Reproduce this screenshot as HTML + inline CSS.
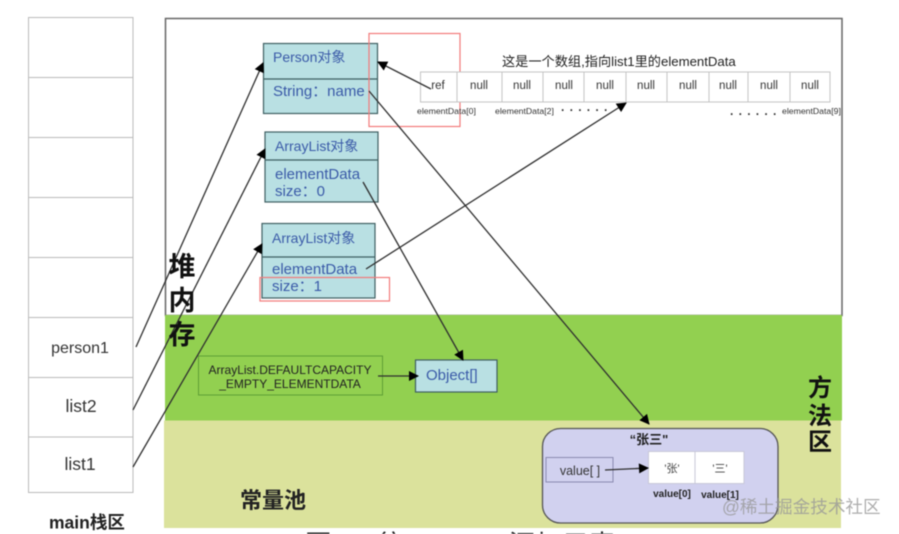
<!DOCTYPE html>
<html><head><meta charset="utf-8"><style>
html,body{margin:0;padding:0;background:#fff;width:899px;height:534px;overflow:hidden}
svg{display:block;filter:blur(.45px)}
text{font-family:"Liberation Sans","Noto Sans CJK SC",sans-serif}
</style></head><body>
<svg width="899" height="534" viewBox="0 0 899 534" xmlns="http://www.w3.org/2000/svg">
<defs><marker id="a" viewBox="0 0 10 10" refX="9" refY="5" markerWidth="11" markerHeight="10" markerUnits="userSpaceOnUse" orient="auto"><path d="M0 0L10 5L0 10Z" fill="#000"/></marker></defs>
<rect x="165.5" y="18.5" width="676.5" height="297" fill="#fff" stroke="#666" stroke-width="1.5"/>
<rect x="165" y="315" width="677" height="105.500" fill="#92d050"/>
<rect x="164" y="420.500" width="677" height="107.500" fill="#dbe29c"/>
<g fill="#fff" stroke="#bbb" stroke-width="1">
<rect x="28.500" y="17.500" width="104.500" height="60"/><rect x="28.500" y="77.500" width="104.500" height="60"/><rect x="28.500" y="137.500" width="104.500" height="60"/><rect x="28.500" y="197.500" width="104.500" height="60"/><rect x="28.500" y="257.500" width="104.500" height="60"/><rect x="28.500" y="317.500" width="104.500" height="60"/><rect x="28.500" y="377.500" width="104.500" height="59.500"/><rect x="28.500" y="437" width="104.500" height="55.500"/>
</g>
<g font-size="16" fill="#333" text-anchor="middle"><text x="80" y="353">person1</text><text x="81" y="412" font-size="17.500">list2</text><text x="80" y="470" font-size="17.500">list1</text></g>
<text x="49" y="528.500" font-size="17.500" font-weight="bold" fill="#222">main栈区</text>
<g fill="#b9e0e3" stroke="#3f5f62" stroke-width="1.200">
<rect x="263.500" y="43.500" width="114" height="70"/><line x1="263.500" y1="79" x2="377.500" y2="79"/>
<rect x="265" y="132" width="113" height="70"/><line x1="265" y1="160" x2="378" y2="160"/>
<rect x="262" y="223.500" width="113" height="74.500"/><line x1="262" y1="257" x2="375" y2="257"/>
<rect x="415.500" y="360" width="81.500" height="32"/>
</g>
<g font-size="14" fill="#3a5aa8">
<text x="273" y="62">Person对象</text><text x="273" y="96" font-size="15">String：name</text>
<text x="275" y="151">ArrayList对象</text><text x="275" y="179" font-size="15">elementData</text><text x="275" y="196" font-size="15">size：0</text>
<text x="272" y="243">ArrayList对象</text><text x="272" y="274" font-size="15">elementData</text><text x="272" y="291" font-size="15">size：1</text>
<text x="426" y="380" font-size="15">Object[]</text>
</g>
<rect x="369" y="33.500" width="91" height="93" fill="none" stroke="#f27a7a" stroke-width="1.200"/>
<rect x="260" y="277.500" width="129.500" height="23.500" fill="none" stroke="#f27a7a" stroke-width="1.200"/>
<text x="502" y="66" font-size="13.200" fill="#222">这是一个数组,指向list1里的elementData</text>
<g fill="#fff" stroke="#c4c4c4"><rect x="420.500" y="72" width="36.500" height="30"/><rect x="457" y="72" width="45" height="30"/><rect x="502" y="72" width="41" height="30"/><rect x="543" y="72" width="41" height="30"/><rect x="584" y="72" width="42" height="30"/><rect x="626" y="72" width="41" height="30"/><rect x="667" y="72" width="42" height="30"/><rect x="709" y="72" width="39" height="30"/><rect x="748" y="72" width="42" height="30"/><rect x="790" y="72" width="40" height="30"/></g>
<g font-size="11.500" fill="#333" text-anchor="middle"><text x="438" y="89">ref</text><text x="479" y="89">null</text><text x="522" y="89">null</text><text x="564" y="89">null</text><text x="605" y="89">null</text><text x="646" y="89">null</text><text x="688" y="89">null</text><text x="728" y="89">null</text><text x="769" y="89">null</text><text x="810" y="89">null</text></g>
<g font-size="8.700" fill="#333"><text x="417" y="114">elementData[0]</text><text x="495" y="114">elementData[2]</text><text x="782" y="114">elementData[9]</text></g>
<g font-size="12" fill="#333" letter-spacing="4.600" font-weight="bold"><text x="561" y="114">······</text><text x="730" y="118">······</text></g>
<rect x="198.500" y="356" width="184" height="39" fill="none" stroke="#5f9f35"/>
<g font-size="12" fill="#222" text-anchor="middle"><text x="290" y="374">ArrayList.DEFAULTCAPACITY</text><text x="290" y="388">_EMPTY_ELEMENTDATA</text></g>
<g font-size="24" font-weight="bold" fill="#111" text-anchor="middle"><text x="820" y="396">方</text><text x="820" y="424">法</text><text x="820" y="450">区</text></g>
<text x="240" y="508" font-size="22" font-weight="bold" fill="#222">常量池</text>
<rect x="542.500" y="428.500" width="235.500" height="94.500" rx="18" fill="#d1d1ef" stroke="#555" stroke-width="1.300"/>
<text x="649" y="444" font-size="13" font-weight="bold" fill="#222" text-anchor="middle">“张三"</text>
<rect x="546" y="457.500" width="67" height="24.500" fill="none" stroke="#8a8ab0"/>
<text x="580" y="475" font-size="12.500" fill="#333" text-anchor="middle">value[ ]</text>
<rect x="648.500" y="451.500" width="46.500" height="32" fill="#fff" stroke="#c8c8d8"/><rect x="695" y="451.500" width="49" height="32" fill="#fff" stroke="#c8c8d8"/>
<g font-size="11" fill="#444" text-anchor="middle"><text x="672" y="472">'张'</text><text x="720" y="472">'三'</text></g>
<g font-size="10" font-weight="bold" fill="#222" text-anchor="middle"><text x="672" y="497">value[0]</text><text x="720" y="498">value[1]</text></g>
<g stroke="#2f2f2f" stroke-width="1.300" fill="none">
<line x1="136" y1="347" x2="263" y2="63" marker-end="url(#a)"/>
<line x1="133" y1="410" x2="265" y2="149" marker-end="url(#a)"/>
<line x1="133" y1="467" x2="262" y2="244" marker-end="url(#a)"/>
<line x1="431" y1="89" x2="378" y2="62" marker-end="url(#a)"/>
<line x1="369" y1="91" x2="649" y2="424" marker-end="url(#a)"/>
<line x1="363" y1="182" x2="463" y2="360" marker-end="url(#a)"/>
<line x1="366" y1="269" x2="626" y2="103" marker-end="url(#a)"/>
<line x1="378" y1="376" x2="418" y2="376" marker-end="url(#a)"/>
<line x1="605" y1="470" x2="648" y2="468" marker-end="url(#a)"/>
</g>
<g font-size="27" font-weight="bold" fill="#111" text-anchor="middle"><text x="182" y="276">堆</text><text x="182" y="310">内</text><text x="182" y="344">存</text></g>
<text x="722" y="513" font-size="17.600" fill="#999" fill-opacity=".8">@稀土掘金技术社区</text>
<text x="305" y="554" font-size="26.600" fill="#222">图7-7 往ArrayList添加元素</text>
</svg>
</body></html>
